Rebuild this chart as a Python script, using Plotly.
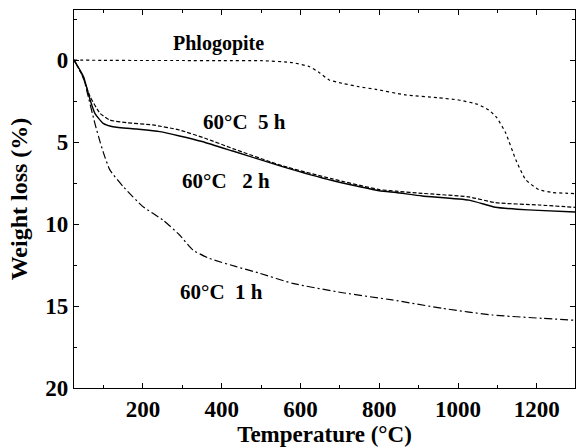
import plotly.graph_objects as go

# Phlogopite (dotted)
phl_T = [25, 100, 200, 300, 400, 500, 580, 623, 648, 673, 706, 749, 791, 867, 950, 1002, 1050, 1078, 1098, 1121, 1147, 1172, 1205, 1240, 1273, 1297]
phl_W = [0, 0.02, 0.03, 0.03, 0.04, 0.04, 0.16, 0.41, 0.77, 1.22, 1.42, 1.63, 1.79, 2.13, 2.3, 2.44, 2.7, 3.05, 3.5, 4.45, 6.1, 7.3, 7.9, 8.08, 8.12, 8.15]

# 60°C 5 h (dashed)
h5_T = [25, 45, 66, 91, 116, 158, 225, 293, 361, 428, 554, 681, 800, 843, 909, 1028, 1095, 1205, 1297]
h5_W = [0, 0.9, 2.24, 3.25, 3.66, 3.82, 3.96, 4.27, 4.8, 5.4, 6.45, 7.25, 7.9, 8.0, 8.13, 8.35, 8.7, 8.84, 8.98]

# 60°C 2 h (solid)
h2_T = [25, 49, 66, 78, 99, 124, 184, 243, 293, 350, 428, 554, 681, 800, 843, 909, 1028, 1095, 1150, 1205, 1297]
h2_W = [0, 1.0, 2.44, 3.25, 3.86, 4.07, 4.21, 4.37, 4.63, 4.97, 5.55, 6.5, 7.35, 7.97, 8.08, 8.29, 8.54, 8.98, 9.1, 9.17, 9.27]

# 60°C 1 h (dash-dot)
h1_T = [25, 49, 57, 78, 91, 99, 116, 150, 200, 251, 293, 327, 369, 437, 496, 580, 707, 833, 960, 1087, 1213, 1297]
h1_W = [0, 1.1, 1.83, 3.86, 4.98, 5.6, 6.7, 7.72, 8.94, 9.76, 10.67, 11.59, 12.1, 12.6, 13.0, 13.62, 14.19, 14.63, 15.14, 15.55, 15.75, 15.87]

x_ticks = [200, 400, 600, 800, 1000, 1200]
y_ticks = [0, 5, 10, 15, 20]

labels = [("Phlogopite", 392, -0.98), ("60°C  5 h", 458, 3.78), ("60°C   2 h", 410, 7.4), ("60°C  1 h", 400, 14.15)]

font_family = "Liberation Serif, Times New Roman, serif"

fig = go.Figure()
fig.add_trace(go.Scatter(x=phl_T, y=phl_W, mode="lines", line=dict(color="black", width=1.2, dash="dot", shape="spline", smoothing=0.5)))
fig.add_trace(go.Scatter(x=h5_T, y=h5_W, mode="lines", line=dict(color="black", width=1.2, dash="4px,2px", shape="spline", smoothing=0.5)))
fig.add_trace(go.Scatter(x=h2_T, y=h2_W, mode="lines", line=dict(color="black", width=1.4, shape="spline", smoothing=0.5)))
fig.add_trace(go.Scatter(x=h1_T, y=h1_W, mode="lines", line=dict(color="black", width=1.2, dash="8px,3px,2px,3px", shape="spline", smoothing=0.5)))

for text, x, y in labels:
    fig.add_annotation(x=x, y=y, text=f"<b>{text}</b>", showarrow=False,
                       font=dict(family=font_family, size=21 if text != "Phlogopite" else 20, color="black"))

fig.update_layout(
    width=576, height=447,
    margin=dict(l=74, r=1, t=10, b=59),
    paper_bgcolor="white", plot_bgcolor="white",
    showlegend=False,
    font=dict(family=font_family, color="black"),
)
fig.update_xaxes(
    range=[25, 1297], tickvals=x_ticks, ticktext=[f"<b>{v}</b>" for v in x_ticks],
    ticks="inside", ticklen=5, tickwidth=1, tickcolor="black",
    minor=dict(dtick=100, tick0=0, ticks="inside", ticklen=3, tickcolor="black"),
    showline=True, linecolor="black", linewidth=1.2, mirror="ticks",
    showgrid=False, zeroline=False,
    tickfont=dict(size=23, family=font_family),
    title=dict(text="<b>Temperature (°C)</b>", font=dict(size=23, family=font_family), standoff=2),
)
fig.update_yaxes(
    range=[20, -3.05], tickvals=y_ticks, ticktext=[f"<b>{v}</b>" for v in y_ticks],
    ticks="inside", ticklen=5, tickwidth=1, tickcolor="black",
    minor=dict(dtick=2.5, tick0=0, ticks="inside", ticklen=3, tickcolor="black"),
    showline=True, linecolor="black", linewidth=1.2, mirror="ticks",
    showgrid=False, zeroline=False,
    tickfont=dict(size=23, family=font_family),
    title=dict(text="<b>Weight loss (%)</b>", font=dict(size=24, family=font_family), standoff=10),
)

fig.write_html("out.html")
